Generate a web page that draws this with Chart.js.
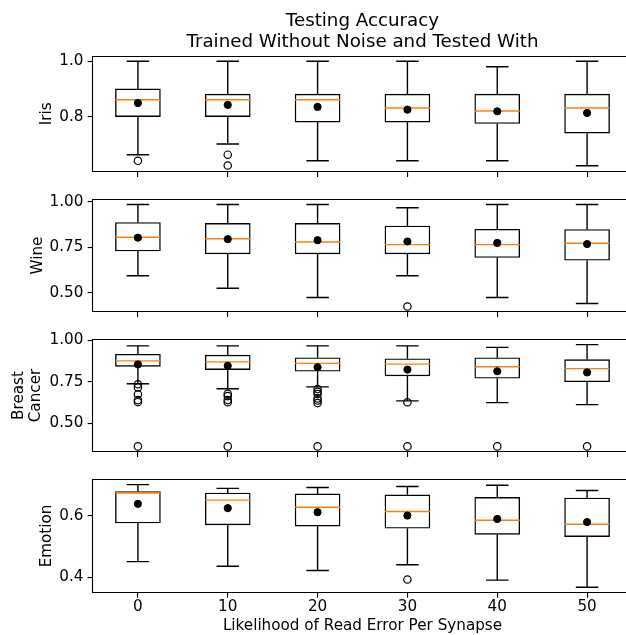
<!DOCTYPE html>
<html><head><meta charset="utf-8">
<script src="https://cdn.jsdelivr.net/npm/chart.js@4.4.1/dist/chart.umd.min.js"></script>
<style>
html,body{margin:0;padding:0;background:#fff;overflow:hidden;width:626px;height:635px;}
#wrap{position:relative;width:626px;height:635px;overflow:hidden;background:#fff;}
canvas{position:absolute;left:0;}
</style></head><body><div id="wrap">
<canvas id="c1" width="726" height="185" style="top:0px"></canvas>
<canvas id="c2" width="726" height="139" style="top:186px"></canvas>
<canvas id="c3" width="726" height="139" style="top:326px"></canvas>
<canvas id="c4" width="726" height="169" style="top:466px"></canvas>
</div>
<script>
// ---- data ----
const errorRates = [0, 10, 20, 30, 40, 50];
const xTickLabels = ['0', '10', '20', '30', '40', '50'];
const chartTitle = ['Testing Accuracy', 'Trained Without Noise and Tested With'];
const xAxisLabel = 'Likelihood of Read Error Per Synapse';

const irisLow    = [0.662, 0.701, 0.640, 0.640, 0.640, 0.622];
const irisQ1     = [0.800, 0.800, 0.780, 0.780, 0.775, 0.740];
const irisMedian = [0.861, 0.861, 0.861, 0.831, 0.820, 0.831];
const irisQ3     = [0.900, 0.881, 0.881, 0.881, 0.881, 0.881];
const irisHigh   = [1.000, 1.000, 1.000, 1.000, 0.980, 1.000];
const irisMean   = [0.849, 0.842, 0.835, 0.825, 0.819, 0.813];
const irisOutliers = [[0.640], [0.662, 0.623], [], [], [], []];
const irisTicks  = [0.8, 1.0];

const wineLow    = [0.595, 0.526, 0.475, 0.595, 0.475, 0.442];
const wineQ1     = [0.731, 0.715, 0.715, 0.715, 0.695, 0.680];
const wineMedian = [0.806, 0.798, 0.780, 0.766, 0.766, 0.773];
const wineQ3     = [0.887, 0.882, 0.882, 0.868, 0.850, 0.849];
const wineHigh   = [0.986, 0.986, 0.986, 0.968, 0.986, 0.986];
const wineMean   = [0.804, 0.796, 0.790, 0.783, 0.775, 0.769];
const wineOutliers = [[], [], [], [0.426], [], []];
const wineTicks  = [0.50, 0.75, 1.00];

const cancerLow    = [0.738, 0.708, 0.719, 0.635, 0.625, 0.613];
const cancerQ1     = [0.842, 0.823, 0.813, 0.785, 0.771, 0.750];
const cancerMedian = [0.875, 0.869, 0.860, 0.856, 0.840, 0.829];
const cancerQ3     = [0.915, 0.910, 0.894, 0.888, 0.894, 0.883];
const cancerHigh   = [0.965, 0.965, 0.965, 0.965, 0.956, 0.973];
const cancerMean   = [0.854, 0.846, 0.837, 0.823, 0.813, 0.806];
const cancerOutliers = [[0.735, 0.716, 0.675, 0.640, 0.628, 0.362],
                        [0.678, 0.664, 0.640, 0.627, 0.362],
                        [0.706, 0.690, 0.676, 0.650, 0.638, 0.622, 0.362],
                        [0.627, 0.362], [0.362], [0.362]];
const cancerTicks  = [0.50, 0.75, 1.00];

const emotionLow    = [0.451, 0.436, 0.422, 0.441, 0.391, 0.368];
const emotionQ1     = [0.576, 0.570, 0.566, 0.559, 0.539, 0.532];
const emotionMedian = [0.673, 0.650, 0.627, 0.613, 0.585, 0.572];
const emotionQ3     = [0.678, 0.673, 0.670, 0.667, 0.659, 0.657];
const emotionHigh   = [0.700, 0.688, 0.691, 0.694, 0.698, 0.681];
const emotionMean   = [0.638, 0.624, 0.611, 0.600, 0.589, 0.579];
const emotionOutliers = [[], [], [], [0.393], [], []];
const emotionTicks  = [0.4, 0.6];

// ---- rendering ----
const FS = 15.2;
const TITLE_FS = 18.25;
Chart.defaults.font.family = "'DejaVu Sans', sans-serif";
Chart.defaults.font.size = FS;
Chart.defaults.color = '#000';

const panels = [
  {id:'c1', label:'Iris', low:irisLow, q1:irisQ1, med:irisMedian, q3:irisQ3, high:irisHigh, mean:irisMean, out:irisOutliers, ticks:irisTicks, dec:1, ymin:0.601, ymax:1.019, labelCenter:47, title:true, bottom:false},
  {id:'c2', label:'Wine', low:wineLow, q1:wineQ1, med:wineMedian, q3:wineQ3, high:wineHigh, mean:wineMean, out:wineOutliers, ticks:wineTicks, dec:2, ymin:0.398, ymax:1.014, labelCenter:38, title:false, bottom:false},
  {id:'c3', label:['Breast','Cancer'], low:cancerLow, q1:cancerQ1, med:cancerMedian, q3:cancerQ3, high:cancerHigh, mean:cancerMean, out:cancerOutliers, ticks:cancerTicks, dec:2, ymin:0.331, ymax:1.004, labelCenter:19.5, title:false, bottom:false},
  {id:'c4', label:'Emotion', low:emotionLow, q1:emotionQ1, med:emotionMedian, q3:emotionQ3, high:emotionHigh, mean:emotionMean, out:emotionOutliers, ticks:emotionTicks, dec:1, ymin:0.351, ymax:0.717, labelCenter:47, title:false, bottom:true}
];

const AXIS_LEFT = 93;
const LABEL_LH = 1.1;

function extrasPlugin(p) {
  return {
    id: 'boxExtras',
    afterDatasetDraw(chart, args) {
      if (args.index !== 0) return;
      const ctx = chart.ctx, a = chart.chartArea;
      const xs = chart.scales.x, ys = chart.scales.y;
      ctx.save();
      ctx.beginPath(); ctx.rect(a.left, a.top, a.right - a.left, a.bottom - a.top); ctx.clip();
      errorRates.forEach((r, i) => {
        const xc = xs.getPixelForValue(r);
        const cl = xs.getPixelForValue(r - 1.25), cr = xs.getPixelForValue(r + 1.25);
        const bl = xs.getPixelForValue(r - 2.5), br = xs.getPixelForValue(r + 2.5);
        const yLo = ys.getPixelForValue(p.low[i]), yQ1 = ys.getPixelForValue(p.q1[i]);
        const yQ3 = ys.getPixelForValue(p.q3[i]), yHi = ys.getPixelForValue(p.high[i]);
        const yMed = ys.getPixelForValue(p.med[i]);
        ctx.strokeStyle = '#000'; ctx.lineWidth = 1.4;
        ctx.beginPath();
        ctx.moveTo(xc, yQ3); ctx.lineTo(xc, yHi);
        ctx.moveTo(xc, yQ1); ctx.lineTo(xc, yLo);
        ctx.moveTo(cl, yHi); ctx.lineTo(cr, yHi);
        ctx.moveTo(cl, yLo); ctx.lineTo(cr, yLo);
        ctx.stroke();
        ctx.strokeStyle = '#ff7f0e'; ctx.lineWidth = 1.4;
        ctx.beginPath(); ctx.moveTo(bl, yMed); ctx.lineTo(br, yMed); ctx.stroke();
      });
      ctx.restore();
    },
    afterDraw(chart) {
      const ctx = chart.ctx, a = chart.chartArea;
      ctx.save();
      ctx.strokeStyle = '#000'; ctx.lineWidth = 1.1;
      const l = Math.round(a.left) - 0.5, t = Math.round(a.top) + 0.5;
      const r = Math.round(a.right) - 0.5, b = Math.round(a.bottom) - 0.5;
      ctx.beginPath(); ctx.rect(l, t, r - l, b - t); ctx.stroke();
      if (p.title) {
        // figure title, centred over the axes area
        ctx.fillStyle = '#000';
        ctx.font = TITLE_FS + "px 'DejaVu Sans', sans-serif";
        ctx.textAlign = 'center';
        ctx.textBaseline = 'middle';
        const cx = (a.left + a.right) / 2;
        chartTitle.forEach((line, k) => ctx.fillText(line, cx, 21.7 + k * 20.5));
      }
      ctx.restore();
    }
  };
}

panels.forEach(p => {
  const outlierPts = [];
  errorRates.forEach((r, i) => p.out[i].forEach(v => outlierPts.push({x: r, y: v})));
  const lh = FS * LABEL_LH;
  const cfg = {
    type: 'bar',
    data: {
      datasets: [
        {type:'bar', order:3, data: errorRates.map((r, i) => ({x: r, y: [p.q1[i], p.q3[i]]})),
         backgroundColor:'#fff', borderColor:'#000', borderWidth:1.4, borderSkipped:false, barThickness:45},
        {type:'scatter', order:2, data: outlierPts, pointRadius:3.7, pointBorderWidth:1.2,
         pointBorderColor:'#000', pointBackgroundColor:'rgba(0,0,0,0)', showLine:false},
        {type:'scatter', order:1, data: errorRates.map((r, i) => ({x: r, y: p.mean[i]})), pointRadius:3.6,
         pointBorderWidth:1, pointBorderColor:'#000', pointBackgroundColor:'#000', showLine:false}
      ]
    },
    options: {
      responsive:false, animation:false, events:[],
      layout:{padding:{left:0, right:94, top: p.title ? 56 : 10, bottom:0}},
      plugins:{ legend:{display:false}, tooltip:{enabled:false}, title:{display:false} },
      scales:{
        x:{type:'linear', min:-5, max:55, offset:false,
           afterBuildTicks: s => { s.ticks = errorRates.map(v => ({value: v})); },
           afterFit: s => { s.height = p.bottom ? 42.5 : 12.5; },
           grid:{display:true, offset:false, drawOnChartArea:false, drawTicks:true, tickLength:5.3, color:'#000', lineWidth:1.1},
           border:{display:false},
           ticks:{display:p.bottom, padding:0.4, color:'#000', font:{size:FS},
             callback: (v) => xTickLabels[errorRates.indexOf(v)]},
           title:{display:p.bottom, text:xAxisLabel, color:'#000', font:{size:FS}, padding:{top:0, bottom:0}}
        },
        y:{type:'linear', min:p.ymin, max:p.ymax,
           afterBuildTicks: s => { s.ticks = p.ticks.map(v => ({value: v})); },
           afterFit: s => { s.width = AXIS_LEFT; },
           grid:{display:true, drawOnChartArea:false, drawTicks:true, tickLength:5.3, color:'#000', lineWidth:1.1},
           border:{display:false},
           ticks:{padding:4.3, color:'#000', font:{size:FS}, callback: (v) => Number(v).toFixed(p.dec)},
           title:{display:true, text:p.label, color:'#000', font:{size:FS, lineHeight:LABEL_LH},
             padding:{top: p.labelCenter - lh / 2, bottom:0}}
        }
      }
    },
    plugins:[extrasPlugin(p)]
  };
  new Chart(document.getElementById(p.id), cfg);
});
</script></body></html>
